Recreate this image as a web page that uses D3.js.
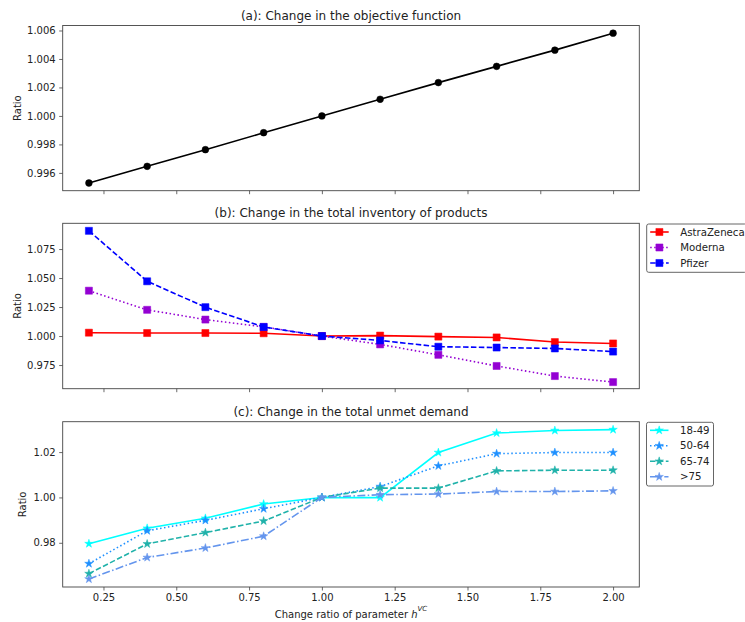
<!DOCTYPE html>
<html>
<head>
<meta charset="utf-8">
<script src="https://cdn.jsdelivr.net/npm/d3@7"></script>
<style>
  body { margin: 0; background: #fff; }
  svg { display: block; font-family: "DejaVu Sans", sans-serif; }
</style>
</head>
<body>
<div id="chart-area"></div>
<script>
// change ratio of h^VC
const xVals = [0.2, 0.4, 0.6, 0.8, 1.0, 1.2, 1.4, 1.6, 1.8, 2.0]
const xTicks = [0.25, 0.5, 0.75, 1.0, 1.25, 1.5, 1.75, 2.0]

// (a) objective
const objRatio = [0.99529, 0.99646, 0.99763, 0.99882, 1.0, 1.00117, 1.00234, 1.00348, 1.00462, 1.00581]
const objTicks = [0.996, 0.998, 1.000, 1.002, 1.004, 1.006]

// (b) inventory
const invAstra = [1.0029, 1.0026, 1.0026, 1.0024, 1.0, 1.0004, 0.9995, 0.9988, 0.9948, 0.9936]
const invModerna = [1.0391, 1.0226, 1.0142, 1.0079, 1.0, 0.9928, 0.9838, 0.9742, 0.9655, 0.9603]
const invPfizer = [1.0907, 1.0472, 1.0249, 1.0078, 1.0, 0.9962, 0.9908, 0.9901, 0.9893, 0.9866]
const invTicks = [0.975, 1.000, 1.025, 1.050, 1.075]

// (c) unmet demand
const unmet1849 = [0.9796, 0.9864, 0.9908, 0.9971, 1.0, 0.9999, 1.0198, 1.0284, 1.0295, 1.0299]
const unmet5064 = [0.9708, 0.9853, 0.9899, 0.9950, 1.0, 1.0048, 1.0139, 1.0193, 1.0198, 1.0198]
const unmet6574 = [0.9664, 0.9795, 0.9845, 0.9896, 1.0, 1.0041, 1.0041, 1.0117, 1.0120, 1.0120]
const unmet75 = [0.9640, 0.9735, 0.9777, 0.9829, 1.0, 1.0012, 1.0015, 1.0026, 1.0026, 1.0029]
const unmetTicks = [0.98, 1.00, 1.02]

const W = 745, H = 622
const LEFT = 62.7, RIGHT = 639.3

const svg = d3.select("#chart-area").append("svg")
  .attr("width", W)
  .attr("height", H)

const x = d3.scaleLinear()
  .domain([0.11, 2.09])
  .range([LEFT, RIGHT])

const DASH = { solid: null, dotted: "1.5,2.5", dashed: "5.5,2.4", dashdot: "8,2.4,1.5,2.4" }

function panel(opts) {
  const y = d3.scaleLinear()
    .domain(opts.domain)
    .range([opts.bottom, opts.top])

  const g = svg.append("g")

  // clip for lines
  const clipId = "clip-" + opts.id
  svg.append("clipPath").attr("id", clipId)
    .append("rect")
    .attr("x", LEFT).attr("y", opts.top)
    .attr("width", RIGHT - LEFT).attr("height", opts.bottom - opts.top)

  // X axis
  const xAxis = d3.axisBottom(x)
    .tickValues(xTicks)
    .tickSize(3.5)
    .tickPadding(3.5)
    .tickFormat(opts.xLabels ? d3.format(".2f") : "")
  g.append("g")
    .attr("transform", `translate(0, ${opts.bottom})`)
    .call(xAxis)
    .call(a => a.select(".domain").remove())

  // Y axis
  const yAxis = d3.axisLeft(y)
    .tickValues(opts.ticks)
    .tickSize(3.5)
    .tickPadding(3.5)
    .tickFormat(d3.format(opts.fmt))
  g.append("g")
    .attr("transform", `translate(${LEFT}, 0)`)
    .call(yAxis)
    .call(a => a.select(".domain").remove())

  g.selectAll(".tick line").attr("stroke", "#444").attr("stroke-width", 0.8)
  g.selectAll(".tick text").attr("fill", "#222").attr("font-size", "10px")
    .attr("font-family", "DejaVu Sans")

  // frame
  g.append("rect")
    .attr("x", LEFT).attr("y", opts.top)
    .attr("width", RIGHT - LEFT).attr("height", opts.bottom - opts.top)
    .attr("fill", "none").attr("stroke", "#444").attr("stroke-width", 0.9)

  // title
  g.append("text")
    .attr("x", (LEFT + RIGHT) / 2)
    .attr("y", opts.top - 6)
    .attr("text-anchor", "middle")
    .attr("font-size", "12px")
    .attr("fill", "#222")
    .text(opts.title)

  // y label
  g.append("text")
    .attr("transform", `translate(${opts.yLabelX}, ${(opts.top + opts.bottom) / 2}) rotate(-90)`)
    .attr("text-anchor", "middle")
    .attr("dy", "0.35em")
    .attr("font-size", "10px")
    .attr("fill", "#222")
    .text("Ratio")

  const line = d3.line()
    .x((d, i) => x(xVals[i]))
    .y(d => y(d))

  opts.series.forEach(s => {
    g.append("path")
      .datum(s.values)
      .attr("clip-path", `url(#${clipId})`)
      .attr("d", line)
      .attr("fill", "none")
      .attr("stroke", s.color)
      .attr("stroke-width", 1.6)
      .attr("stroke-dasharray", DASH[s.dash])

    g.selectAll(null)
      .data(s.values)
      .enter().append("path")
      .attr("transform", (d, i) => `translate(${x(xVals[i])}, ${y(d)})`)
      .attr("d", d3.symbol().type(s.symbol).size(s.size))
      .attr("fill", s.color)
      .attr("stroke", s.color)
      .attr("stroke-width", 0.5)
  })

  // legend
  if (opts.legend) {
    const L = opts.legend
    const lg = svg.append("g")
    lg.append("rect")
      .attr("x", L.x).attr("y", L.y)
      .attr("width", L.w).attr("height", L.h)
      .attr("rx", 2)
      .attr("fill", "#fff")
      .attr("stroke", "#555")
      .attr("stroke-width", 0.9)
    opts.series.forEach((s, i) => {
      const cy = L.y + 8 + i * 15.5
      lg.append("line")
        .attr("x1", L.x + 3.5).attr("x2", L.x + 22)
        .attr("y1", cy).attr("y2", cy)
        .attr("stroke", s.color)
        .attr("stroke-width", 1.6)
        .attr("stroke-dasharray", DASH[s.dash])
      lg.append("path")
        .attr("transform", `translate(${L.x + 12.7}, ${cy})`)
        .attr("d", d3.symbol().type(s.symbol).size(s.size))
        .attr("fill", s.color)
        .attr("stroke", s.color)
        .attr("stroke-width", 0.5)
      lg.append("text")
        .attr("x", L.x + 33.5)
        .attr("y", cy)
        .attr("dy", "0.35em")
        .attr("font-size", "10.2px")
        .attr("fill", "#222")
        .text(s.name)
    })
  }
}

panel({
  id: "a", top: 25.5, bottom: 190.7, domain: [0.99475, 1.00635],
  ticks: objTicks, fmt: ".3f", title: "(a): Change in the objective function",
  yLabelX: 17.5, xLabels: false,
  series: [
    { name: "Objective", values: objRatio, color: "#000", dash: "solid", symbol: d3.symbolCircle, size: 36 }
  ]
})

panel({
  id: "b", top: 223.3, bottom: 388.7, domain: [0.9546, 1.0972],
  ticks: invTicks, fmt: ".3f", title: "(b): Change in the total inventory of products",
  yLabelX: 17.5, xLabels: false,
  series: [
    { name: "AstraZeneca", values: invAstra, color: "#ff0000", dash: "solid", symbol: d3.symbolSquare, size: 50 },
    { name: "Moderna", values: invModerna, color: "#9400d3", dash: "dotted", symbol: d3.symbolSquare, size: 50 },
    { name: "Pfizer", values: invPfizer, color: "#0000ff", dash: "dashed", symbol: d3.symbolSquare, size: 50 }
  ],
  legend: { x: 646.7, y: 224, w: 100, h: 48.3 }
})

panel({
  id: "c", top: 421.7, bottom: 587, domain: [0.9605, 1.0334],
  ticks: unmetTicks, fmt: ".2f", title: "(c): Change in the total unmet demand",
  yLabelX: 22.7, xLabels: true,
  series: [
    { name: "18-49", values: unmet1849, color: "#00ffff", dash: "solid", symbol: d3.symbolStar, size: 22 },
    { name: "50-64", values: unmet5064, color: "#1e90ff", dash: "dotted", symbol: d3.symbolStar, size: 22 },
    { name: "65-74", values: unmet6574, color: "#20b2aa", dash: "dashed", symbol: d3.symbolStar, size: 22 },
    { name: ">75", values: unmet75, color: "#6495ed", dash: "dashdot", symbol: d3.symbolStar, size: 22 }
  ],
  legend: { x: 646.5, y: 422.3, w: 67, h: 63.7 }
})

// X label
const xl = svg.append("text")
  .attr("x", (LEFT + RIGHT) / 2)
  .attr("y", 614)
  .attr("dy", "0.35em")
  .attr("text-anchor", "middle")
  .attr("font-size", "10px")
  .attr("fill", "#222")
xl.append("tspan").text("Change ratio of parameter ")
xl.append("tspan").attr("font-style", "italic").text("h")
xl.append("tspan").attr("font-size", "7px").attr("font-style", "italic").attr("dy", "-0.9em").text("VC")
</script>
</body>
</html>
